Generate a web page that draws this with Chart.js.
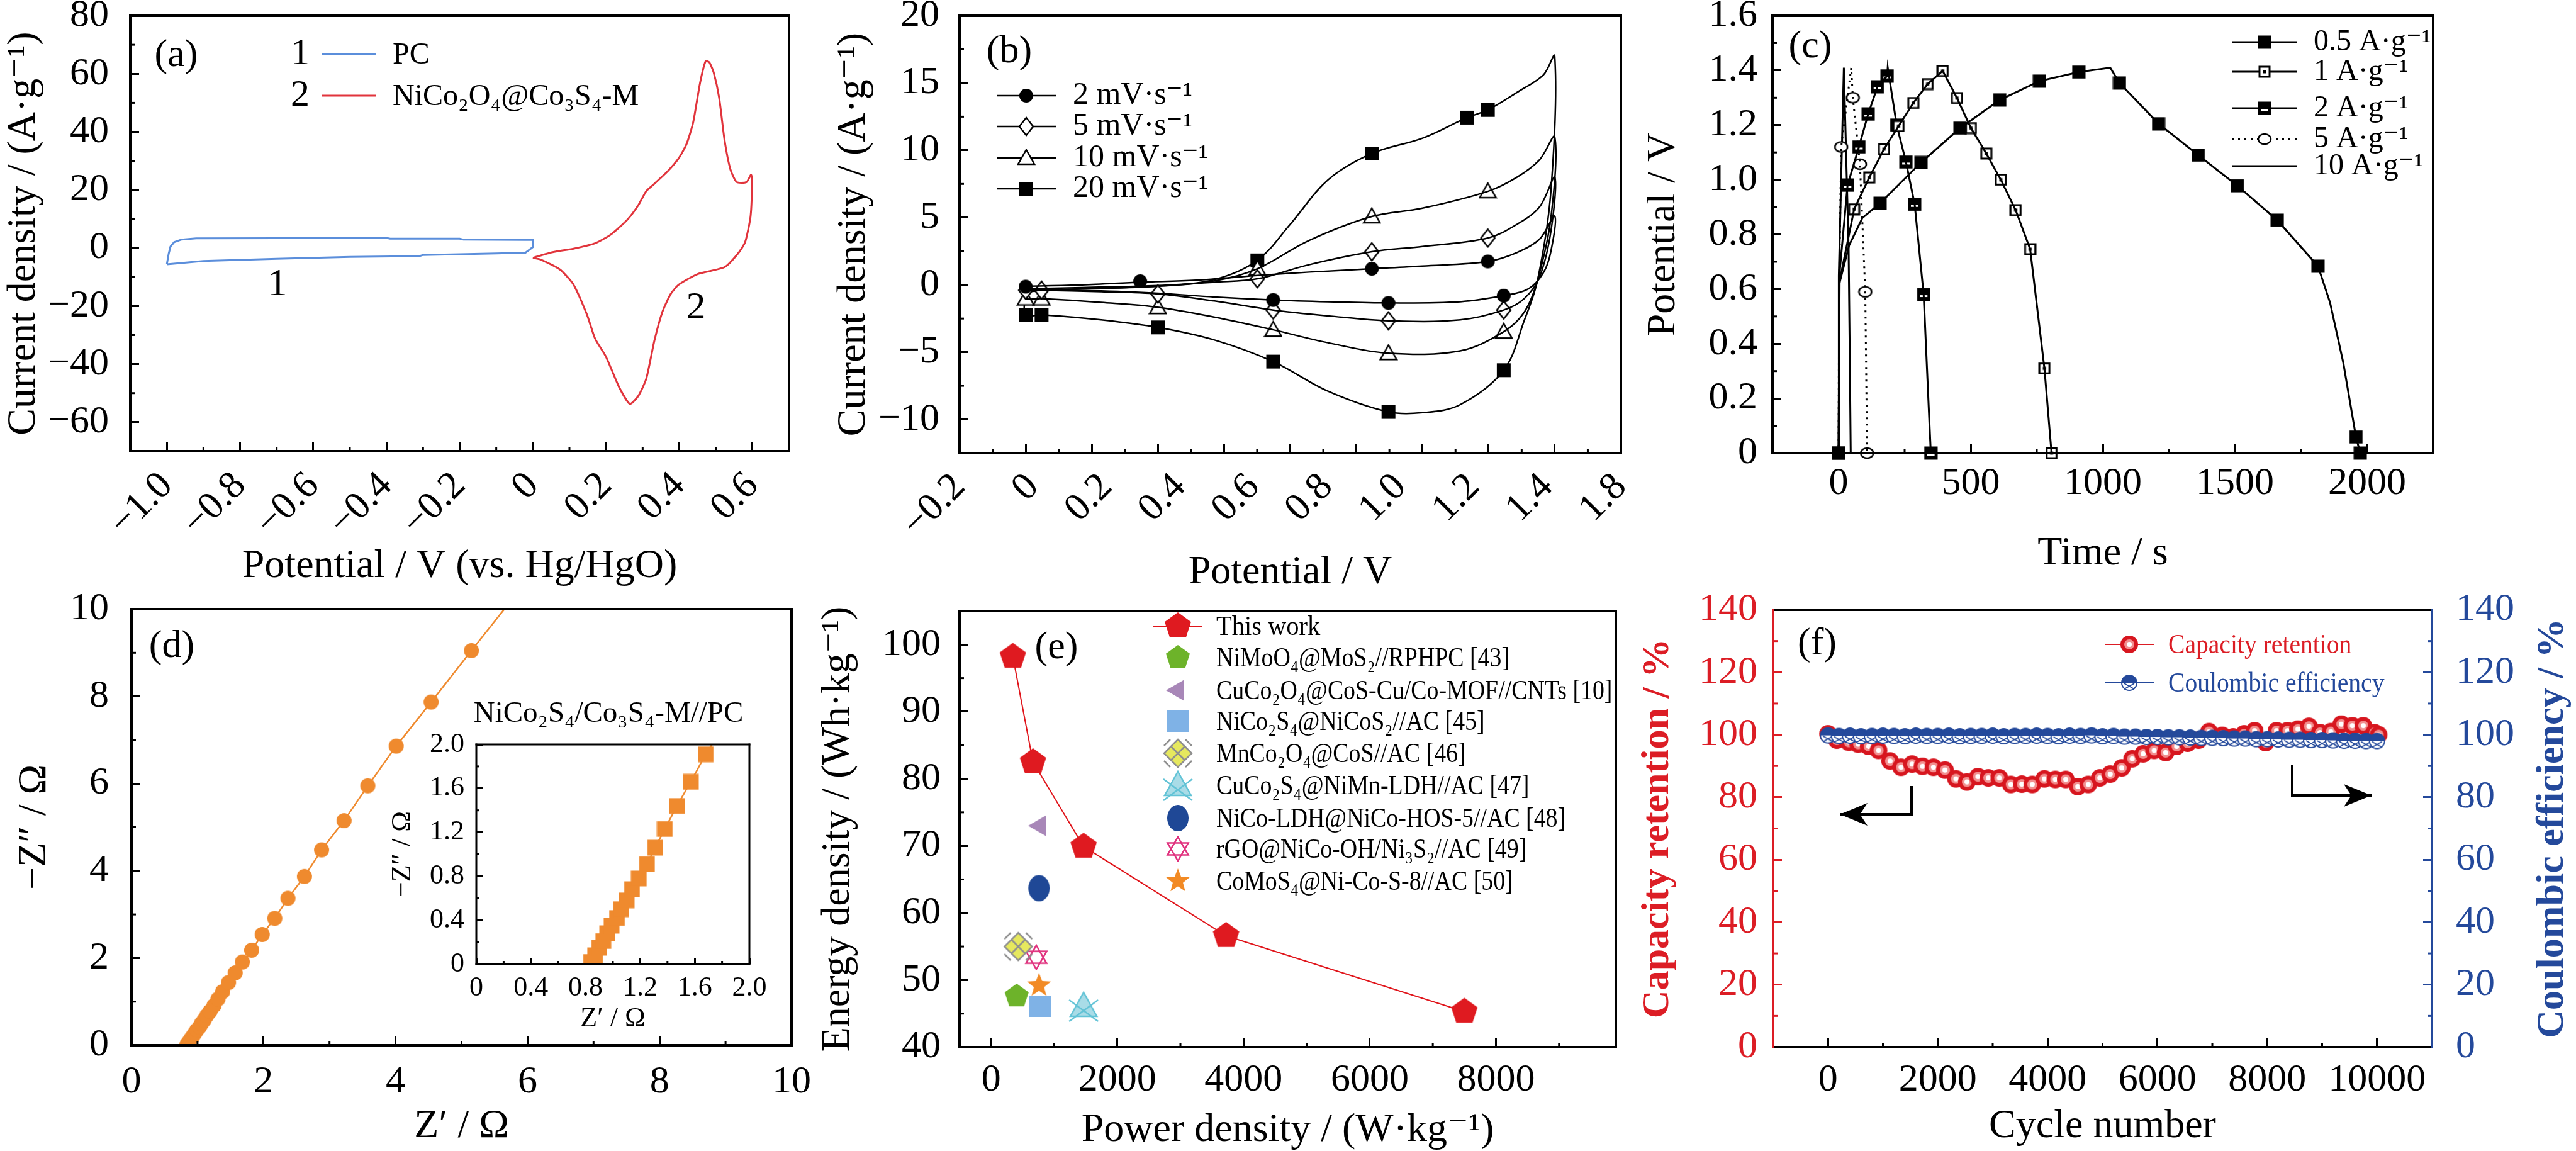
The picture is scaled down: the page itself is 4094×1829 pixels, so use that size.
<!DOCTYPE html>
<html>
<head>
<meta charset="utf-8">
<script src="https://cdn.jsdelivr.net/npm/chart.js@4.4.1/dist/chart.umd.min.js"></script>
<style>
  html, body { margin: 0; padding: 0; background: #fff; }
  body { width: 4094px; height: 1829px; position: relative; overflow: hidden; }
  canvas { position: absolute; }
</style>
</head>
<body>
<canvas id="pa"></canvas>
<canvas id="pb"></canvas>
<canvas id="pc"></canvas>
<canvas id="pd"></canvas>
<canvas id="pd2"></canvas>
<canvas id="pe"></canvas>
<canvas id="pf"></canvas>
<script>
// ---------- (a) CV of the two electrodes, [V vs Hg/HgO, A/g]
const cvPC = [[-1.0,-5.6],[-0.995,-2],[-0.99,0.5],[-0.98,2.0],[-0.96,2.9],[-0.92,3.3],[-0.7,3.4],[-0.4,3.5],[-0.39,3.2],[-0.2,3.2],[-0.19,2.9],[-0.02,2.8],[0,2.8],[0,0.3],[-0.02,-1.6],[-0.1,-1.9],[-0.3,-2.4],[-0.31,-2.8],[-0.5,-3.1],[-0.7,-3.7],[-0.9,-4.5],[-1.0,-5.6]];
const cvNiCo = [[0,-3.4],[0.052,-1.5],[0.111,-0.25],[0.17,1.6],[0.214,4.7],[0.258,9.7],[0.288,14.7],[0.31,19.6],[0.332,22.1],[0.369,26.5],[0.398,30.8],[0.42,35.8],[0.438,43.2],[0.457,56.9],[0.472,64.3],[0.482,64],[0.494,60.5],[0.509,51.8],[0.524,37],[0.54,27],[0.557,22.7],[0.584,22.7],[0.596,25.2],[0.599,24],[0.595,11],[0.58,2],[0.56,-2],[0.524,-6.6],[0.45,-9],[0.398,-12.7],[0.376,-16],[0.354,-22],[0.332,-32],[0.31,-45],[0.288,-51],[0.265,-53.7],[0.236,-48],[0.2,-37.5],[0.17,-31.2],[0.148,-23],[0.111,-12.6],[0.074,-7.4],[0.022,-4],[0,-3.4]];

// ---------- (b) CV of the device at four scan rates, [V, A/g]
const scanRates = ['2 mV·s⁻¹', '5 mV·s⁻¹', '10 mV·s⁻¹', '20 mV·s⁻¹'];
const cv2Curve = [[0,-0.1],[0.15,0.0],[0.303,0.2],[0.45,0.35],[0.613,0.7],[0.75,0.95],[0.916,1.2],[1.05,1.4],[1.223,1.74],[1.3,2.4],[1.36,3.4],[1.4,5.1],[1.39,2.5],[1.37,0.9],[1.33,-0.3],[1.265,-0.8],[1.15,-1.25],[0.96,-1.34],[0.8,-1.25],[0.655,-1.12],[0.5,-0.9],[0.35,-0.62],[0.2,-0.45],[0.042,-0.35],[0,-0.3],[0,-0.1]];
const cv2Marks = [[0,-0.13],[0.303,0.27],[0.916,1.2],[1.223,1.74],[1.265,-0.8],[0.96,-1.34],[0.655,-1.12]];
const cv5Curve = [[0,-0.3],[0.15,-0.2],[0.35,-0.05],[0.5,0.2],[0.613,0.45],[0.75,1.5],[0.916,2.46],[1.05,2.85],[1.223,3.48],[1.3,4.5],[1.36,5.8],[1.4,8.0],[1.39,4.0],[1.36,0.6],[1.32,-1.0],[1.265,-1.87],[1.15,-2.6],[0.96,-2.67],[0.8,-2.3],[0.655,-1.87],[0.5,-1.2],[0.35,-0.67],[0.2,-0.5],[0.042,-0.4],[0,-0.4],[0,-0.3]];
const cv5Marks = [[0,-0.4],[0.042,-0.4],[0.35,-0.67],[0.655,-1.87],[0.96,-2.67],[1.265,-1.87],[0.613,0.45],[0.916,2.46],[1.223,3.48]];
const cv10Curve = [[0,-0.5],[0.15,-0.3],[0.35,-0.1],[0.5,0.3],[0.613,1.2],[0.75,3.3],[0.916,5.08],[1.05,5.7],[1.223,6.95],[1.3,8.0],[1.36,9.3],[1.4,11.0],[1.39,5.0],[1.355,0.4],[1.32,-2.0],[1.265,-3.48],[1.15,-4.9],[0.96,-5.08],[0.8,-4.3],[0.655,-3.34],[0.5,-2.4],[0.35,-1.66],[0.2,-1.3],[0.042,-1.02],[0,-1.02],[0,-0.5]];
const cv10Marks = [[0,-1.02],[0.042,-1.02],[0.35,-1.66],[0.655,-3.34],[0.96,-5.08],[1.265,-3.48],[0.613,1.2],[0.916,5.08],[1.223,6.95]];
const cv20Curve = [[0,-0.4],[0.15,-0.3],[0.35,-0.1],[0.5,0.4],[0.613,1.82],[0.7,4.5],[0.8,7.8],[0.916,9.76],[1.05,10.9],[1.168,12.43],[1.223,13.0],[1.3,14.3],[1.37,15.6],[1.4,17.0],[1.39,7.0],[1.355,0.4],[1.32,-2.6],[1.265,-6.34],[1.15,-8.9],[1.05,-9.5],[0.96,-9.44],[0.8,-7.9],[0.655,-5.7],[0.5,-4.1],[0.35,-3.16],[0.2,-2.6],[0.042,-2.22],[0,-2.22],[0,-0.4]];
const cv20Marks = [[0,-2.22],[0.042,-2.22],[0.35,-3.16],[0.655,-5.7],[0.96,-9.44],[1.265,-6.34],[0.613,1.82],[0.916,9.76],[1.168,12.43],[1.223,13.0]];
const potentialTickLabels = ['−0.2', '0', '0.2', '0.4', '0.6', '0.8', '1.0', '1.2', '1.4', '1.8'];

// ---------- (c) charge/discharge curves, [s, V]
const currentLabels = ['0.5 A·g⁻¹', '1 A·g⁻¹', '2 A·g⁻¹', '5 A·g⁻¹', '10 A·g⁻¹'];
const gcd05Marks = [[0,0],[157,0.914],[312,1.063],[460,1.189],[610,1.292],[760,1.361],[909,1.394],[1063,1.354],[1211,1.205],[1361,1.09],[1509,0.978],[1660,0.852],[1814,0.684],[1958,0.059],[1974,0]];
const gcd05Extra = [[3,0.62],[40,0.76],[90,0.86],[1028,1.41],[1860,0.55],[1910,0.33]];
const gcd1Marks = [[59,0.892],[116,1.008],[172,1.112],[227,1.196],[283,1.281],[337,1.35],[394,1.398],[448,1.299],[501,1.189],[559,1.096],[614,1.0],[670,0.889],[725,0.746],[779,0.31],[806,0]];
const gcd1Extra = [[0,0],[4,0.63]];
const gcd2Marks = [[0,0],[34,0.98],[77,1.12],[112,1.24],[147,1.34],[184,1.38],[220,1.2],[255,1.065],[288,0.91],[322,0.58],[349,0]];
const gcd2Extra = [[2,0.64],[186,1.41]];
const gcd5Marks = [[0,0],[10,1.12],[54,1.3],[81,1.057],[101,0.59],[108,0]];
const gcd5Extra = [[2,0.6],[48,1.41]];
const gcd10Curve = [[0,0],[1,0.65],[20,1.41],[38,0.75],[43,0.3],[46,0]];

// ---------- (d) Nyquist plot, [Z' ohm, -Z'' ohm]
const nyquist = [[0.84,0.02],[0.87,0.08],[0.9,0.15],[0.93,0.21],[0.96,0.28],[0.99,0.35],[1.03,0.42],[1.06,0.5],[1.1,0.58],[1.14,0.68],[1.19,0.78],[1.25,0.91],[1.31,1.06],[1.38,1.23],[1.47,1.44],[1.57,1.66],[1.68,1.91],[1.82,2.18],[1.98,2.54],[2.17,2.91],[2.37,3.37],[2.62,3.87],[2.88,4.48],[3.22,5.15],[3.58,5.95],[4.01,6.86],[4.54,7.87],[5.15,9.05],[5.78,10.25]];

// ---------- (e) Ragone plot
const thisWorkPower = [345, 664, 1466, 3724, 7500];
const thisWorkEnergy = [98.2, 82.5, 69.9, 56.6, 45.3];
const refNames = ['NiMoO₄@MoS₂//RPHPC [43]', 'CuCo₂O₄@CoS-Cu/Co-MOF//CNTs [10]', 'NiCo₂S₄@NiCoS₂//AC [45]', 'MnCo₂O₄@CoS//AC [46]', 'CuCo₂S₄@NiMn-LDH//AC [47]', 'NiCo-LDH@NiCo-HOS-5//AC [48]', 'rGO@NiCo-OH/Ni₃S₂//AC [49]', 'CoMoS₄@Ni-Co-S-8//AC [50]'];
const refPower = [405, 776, 776, 431, 1466, 759, 716, 759];
const refEnergy = [47.6, 73.0, 46.1, 55.0, 46.1, 63.7, 53.4, 49.2];

// ---------- (f) cycling
const retentionCycles = [0,160,380,550,740,920,1130,1330,1530,1720,1920,2130,2330,2530,2730,2920,3120,3330,3530,3720,3940,4140,4330,4550,4740,4950,5140,5350,5540,5740,5940,6150,6350,6550,6750,6940,7180,7380,7580,7770,7970,8170,8370,8560,8760,8960,9160,9350,9550,9750,9950,10030];
const retention = [100.3,98.3,97.6,97.0,96.3,95.0,91.6,89.6,90.6,89.9,89.6,88.7,85.9,84.9,86.6,86.2,86.2,84.1,84.2,84.1,85.9,85.7,85.7,83.4,84.1,86.2,87.4,89.4,92.3,93.9,95.0,94.3,96.3,97.3,98.3,101.0,99.8,99.3,100.3,101.3,97.5,101.3,101.3,101.8,102.7,100.7,101.0,103.4,102.9,102.9,100.7,100.0];
const ceCycles = [0,200,400,600,800,1000,1200,1400,1600,1800,2000,2200,2400,2600,2800,3000,3200,3400,3600,3800,4000,4200,4400,4600,4800,5000,5200,5400,5600,5800,6000,6200,6400,6600,6800,7000,7200,7400,7600,7800,8000,8200,8400,8600,8800,9000,9200,9400,9600,9800,10000];
const coulombic = [99.8,99.6,99.7,99.5,99.6,99.7,99.6,99.5,99.7,99.6,99.6,99.7,99.5,99.6,99.6,99.7,99.5,99.6,99.6,99.7,99.6,99.5,99.7,99.6,99.8,99.5,99.6,99.4,99.4,99.3,99.3,99.2,99.2,99.1,99.0,99.0,98.9,98.8,98.8,98.6,98.6,98.5,98.4,98.4,98.3,98.3,98.2,98.1,98.1,98.0,98.0];

// ---------- look
const FONT = "'Liberation Serif', 'DejaVu Serif', serif";
const TICK = 62, TITLE = 64;
const RED = '#DC1D25', BLUE = '#24499B', ORANGE = '#EF8A2E';
Chart.defaults.font.family = FONT;

// canvas rectangle (c) and plot box (b) of each panel, page pixels
const PA = {c: {x: 0, y: 0, w: 1320, h: 960}, b: {l: 207, t: 25, r: 1254, b: 717}};
const PB = {c: {x: 1290, y: 0, w: 1420, h: 960}, b: {l: 1525, t: 25, r: 2576, b: 720}};
const PC = {c: {x: 2580, y: 0, w: 1514, h: 960}, b: {l: 2817, t: 25, r: 3867, b: 720}};
const PD = {c: {x: 0, y: 915, w: 1320, h: 914}, b: {l: 209, t: 968, r: 1258, b: 1661}};
const PD2 = {c: {x: 560, y: 1100, w: 700, h: 560}, b: {l: 757, t: 1183, r: 1191, b: 1532}};
const PE = {c: {x: 1290, y: 915, w: 1300, h: 914}, b: {l: 1525, t: 971, r: 2574, b: 1664}};
const PF = {c: {x: 2580, y: 915, w: 1514, h: 914}, b: {l: 2818, t: 969, r: 3865, b: 1664}};

const pts = a => a.map(([x, y]) => ({x, y}));
const zip = (xs, ys) => xs.map((x, i) => ({x, y: ys[i]}));
const byX = a => a.slice().sort((p, q) => p[0] - q[0]);
const minus = s => s.replace('-', '−');
const fmtInt = v => minus(String(Math.round(v)));
const fmt1 = v => Math.abs(v) < 1e-9 ? '0' : minus(v.toFixed(1));

// ---------- marker images
function mk(w, h, draw) {
  const c = document.createElement('canvas');
  c.width = w; c.height = h || w;
  const g = c.getContext('2d');
  g.translate(c.width / 2, c.height / 2);
  draw(g, c.width / 2, c.height / 2);
  return c;
}
function shape(g, p, fill, stroke, lw) {
  g.beginPath();
  p.forEach(([x, y], i) => i ? g.lineTo(x, y) : g.moveTo(x, y));
  g.closePath();
  if (fill) { g.fillStyle = fill; g.fill(); }
  if (stroke) { g.strokeStyle = stroke; g.lineWidth = lw; g.stroke(); }
}
const ngon = (n, r, rot) => Array.from({length: n}, (_, i) => [r * Math.cos(rot + i * 2 * Math.PI / n), r * Math.sin(rot + i * 2 * Math.PI / n)]);
const starPts = (n, r1, r2) => Array.from({length: 2 * n}, (_, i) => {
  const r = i % 2 ? r2 : r1, a = -Math.PI / 2 + i * Math.PI / n;
  return [r * Math.cos(a), r * Math.sin(a)];
});
const disc = (g, r, fill, stroke, lw, rx) => {
  g.beginPath(); g.ellipse(0, 0, rx || r, r, 0, 0, 2 * Math.PI);
  if (fill) { g.fillStyle = fill; g.fill(); }
  if (stroke) { g.strokeStyle = stroke; g.lineWidth = lw; g.stroke(); }
};
const square = s => [[-s, -s], [s, -s], [s, s], [-s, s]];

const mDotB = mk(24, 0, g => disc(g, 11, '#000'));
const mDiaO = mk(26, 32, g => shape(g, [[0, -14], [11, 0], [0, 14], [-11, 0]], '#fff', '#000', 2.5));
const mTriO = mk(30, 30, g => shape(g, [[0, -13], [13, 10], [-13, 10]], '#fff', '#000', 2.5));
const mSqB = mk(24, 0, g => shape(g, square(11), '#000'));
const mSq05 = mk(22, 0, g => shape(g, square(10.5), '#000'));
const mSqDot = mk(20, 0, g => { shape(g, square(8), '#fff', '#000', 3); shape(g, square(2.5), '#000'); });
const mSqBar = mk(22, 0, g => { shape(g, square(10.5), '#000'); shape(g, [[-6, 1], [6, 1], [6, 4], [-6, 4]], '#fff'); });
const mCircO = mk(24, 20, g => disc(g, 8, '#fff', '#000', 2.5, 10));
const mDotOr = mk(26, 0, g => disc(g, 12, ORANGE));
const mSqOr = mk(26, 0, g => shape(g, square(12.5), ORANGE));
const mPentRed = mk(46, 0, g => shape(g, ngon(5, 22, -Math.PI / 2), '#DF1A20'));
const refMarks = [
  mk(44, 0, g => shape(g, ngon(5, 20, -Math.PI / 2), '#6DB32A')),
  mk(40, 0, g => shape(g, ngon(3, 19, Math.PI), '#A887B8')),
  mk(38, 0, g => shape(g, square(17), '#7FB2E6')),
  mk(50, 0, g => {
    shape(g, [[0, -22], [22, 0], [0, 22], [-22, 0]], '#E6E85E', '#8F8F8F', 2.5);
    g.beginPath(); g.moveTo(-11, -11); g.lineTo(11, 11); g.moveTo(11, -11); g.lineTo(-11, 11);
    g.moveTo(-22, -12); g.lineTo(-12, -22); g.moveTo(12, -22); g.lineTo(22, -12);
    g.moveTo(-22, 12); g.lineTo(-12, 22); g.moveTo(12, 22); g.lineTo(22, 12); g.stroke();
  }),
  mk(52, 0, g => {
    shape(g, [[0, -22], [21, 16], [-21, 16]], '#A9DCE7', '#62C3D6', 2.5);
    g.beginPath(); g.moveTo(-23, -10); g.lineTo(23, 24); g.moveTo(23, -10); g.lineTo(-23, 24); g.stroke();
  }),
  mk(40, 46, g => disc(g, 21, '#1F4896', null, 0, 17)),
  mk(42, 0, g => {
    shape(g, ngon(3, 19, -Math.PI / 2), null, '#E0307D', 2.5);
    shape(g, ngon(3, 19, Math.PI / 2), null, '#E0307D', 2.5);
  }),
  mk(44, 0, g => shape(g, starPts(5, 20, 8.5), '#F28A24'))
];
const mSphere = mk(30, 0, g => { disc(g, 14, '#D7161F'); disc(g, 8, '#F28F8F'); disc(g, 4, '#fff'); });
const mCE = mk(28, 0, g => {
  disc(g, 12, '#fff');
  g.beginPath(); g.arc(0, 0, 12, Math.PI, 2 * Math.PI); g.closePath(); g.fillStyle = BLUE; g.fill();
  g.strokeStyle = BLUE; g.lineWidth = 2;
  g.beginPath(); g.moveTo(-8, 1); g.lineTo(8, 10); g.moveTo(8, 1); g.lineTo(-8, 10); g.stroke();
  disc(g, 12, null, BLUE, 2);
});

// ---------- axes
function fitTo(P, pos, zero) {
  return s => {
    if (zero) s.height = 0;
    else if (pos === 'left') s.width = P.b.l - P.c.x;
    else if (pos === 'right') s.width = P.c.x + P.c.w - P.b.r;
    else s.height = P.c.y + P.c.h - P.b.b;
    s.paddingLeft = s.paddingRight = s.paddingTop = s.paddingBottom = 0;
  };
}
function stepTicks(step) {
  return s => {
    const out = [];
    for (let k = Math.ceil(s.min / step - 1e-6); k * step <= s.max + 1e-6; k++) out.push({value: k * step});
    s.ticks = out;
  };
}
function titleOpt(P, pos, text, at, o = {}) {
  if (!text) return {display: false};
  const size = o.tsize || TITLE, half = size * 0.6;
  let padding;
  if (pos === 'left') padding = {top: at - P.c.x - half, bottom: 0};
  else if (pos === 'right') padding = {top: P.c.x + P.c.w - at - half, bottom: 0};
  else padding = {top: 0, bottom: P.c.y + P.c.h - at - half};
  return {display: true, text, color: o.tcolor || '#000', font: {family: FONT, size, weight: o.bold ? 'bold' : 'normal'}, padding};
}
function axis(P, pos, o) {
  const col = o.color || '#000';
  return {
    type: 'linear', position: pos, min: o.min, max: o.max, weight: o.weight || 0,
    afterFit: fitTo(P, pos, o.zero),
    afterBuildTicks: stepTicks(o.step),
    border: {display: false},
    grid: {drawOnChartArea: false, tickLength: -(o.tl || 14), tickWidth: 3, tickColor: col},
    ticks: {display: o.labels !== false, autoSkip: false, padding: o.pad, color: col,
      font: {family: FONT, size: o.size || TICK}, minRotation: o.rot || 0, maxRotation: o.rot || 0, callback: o.fmt},
    title: titleOpt(P, pos, o.title, o.at, o)
  };
}

// ---------- page decorations
function text(ctx, s, x, y, o = {}) {
  ctx.font = `${o.bold ? 'bold ' : ''}${o.size || 48}px ${FONT}`;
  ctx.fillStyle = o.color || '#000';
  ctx.textAlign = o.align || 'left';
  ctx.textBaseline = 'middle';
  ctx.fillText(s, x, y, ctx.measureText(s).width * (o.sq || 1));
}
function seg(ctx, x1, x2, y, ds) {
  ctx.save();
  ctx.strokeStyle = ds.borderColor; ctx.lineWidth = ds.borderWidth;
  ctx.setLineDash(ds.borderDash || []);
  ctx.beginPath(); ctx.moveTo(x1, y); ctx.lineTo(x2, y); ctx.stroke();
  ctx.restore();
}
function mark(ctx, img, x, y) { ctx.drawImage(img, x - img.width / 2, y - img.height / 2); }
function arrow(ctx, p) {
  ctx.save();
  ctx.strokeStyle = ctx.fillStyle = '#000'; ctx.lineWidth = 4;
  ctx.beginPath(); p.forEach(([x, y], i) => i ? ctx.lineTo(x, y) : ctx.moveTo(x, y)); ctx.stroke();
  const [x1, y1] = p[p.length - 2], [x2, y2] = p[p.length - 1];
  ctx.translate(x2, y2); ctx.rotate(Math.atan2(y2 - y1, x2 - x1));
  ctx.beginPath(); ctx.moveTo(0, 0); ctx.lineTo(-44, -18); ctx.lineTo(-32, 0); ctx.lineTo(-44, 18); ctx.closePath(); ctx.fill();
  ctx.restore();
}

function panel(id, P, cfg) {
  const cv = document.getElementById(id);
  cv.width = P.c.w; cv.height = P.c.h;
  cv.style.left = P.c.x + 'px'; cv.style.top = P.c.y + 'px';
  const frame = Object.assign({top: '#000', bottom: '#000', left: '#000', right: '#000'}, cfg.frame);
  return new Chart(cv, {
    type: 'scatter',
    data: {datasets: cfg.datasets},
    options: {
      responsive: false, animation: false, events: [],
      layout: {padding: {top: P.b.t - P.c.y, left: 0, bottom: 0, right: cfg.rightAxis ? 0 : P.c.x + P.c.w - P.b.r}},
      plugins: {legend: {display: false}, tooltip: {enabled: false}},
      scales: cfg.scales
    },
    plugins: [{
      id: 'frameMinor',
      afterDatasetsDraw(chart) {
        const {ctx, chartArea: a} = chart;
        ctx.save();
        ctx.lineWidth = 3;
        (cfg.minor || []).forEach(m => {
          const s = chart.scales[m.id];
          ctx.strokeStyle = m.color || '#000';
          const len = m.len || 7;
          for (let k = Math.ceil(s.min / m.step - 1e-6); k * m.step <= s.max + 1e-6; k++) {
            const v = k * m.step;
            if (Math.abs(v / m.major - Math.round(v / m.major)) < 1e-6) continue;
            const p = s.getPixelForValue(v);
            ctx.beginPath();
            if (s.position === 'bottom') { ctx.moveTo(p, a.bottom); ctx.lineTo(p, a.bottom - len); }
            else if (s.position === 'left') { ctx.moveTo(a.left, p); ctx.lineTo(a.left + len, p); }
            else { ctx.moveTo(a.right, p); ctx.lineTo(a.right - len, p); }
            ctx.stroke();
          }
        });
        ctx.lineWidth = cfg.frameWidth || 4;
        ctx.lineCap = 'square';
        [['top', a.left, a.top, a.right, a.top], ['bottom', a.left, a.bottom, a.right, a.bottom],
         ['left', a.left, a.top, a.left, a.bottom], ['right', a.right, a.top, a.right, a.bottom]].forEach(([k, x1, y1, x2, y2]) => {
          ctx.strokeStyle = frame[k];
          ctx.beginPath(); ctx.moveTo(x1, y1); ctx.lineTo(x2, y2); ctx.stroke();
        });
        ctx.restore();
      },
      afterDraw(chart) {
        if (!cfg.deco) return;
        const ctx = chart.ctx;
        ctx.save(); ctx.translate(-P.c.x, -P.c.y);
        cfg.deco(ctx, chart.data.datasets);
        ctx.restore();
      }
    }]
  });
}

// ---------- (a)
panel('pa', PA, {
  datasets: [
    {data: pts(cvPC), showLine: true, borderColor: '#5B8EDB', borderWidth: 3, pointRadius: 0, tension: 0},
    {data: pts(cvNiCo), showLine: true, borderColor: '#E1343C', borderWidth: 3, pointRadius: 0, tension: 0.2}
  ],
  scales: {
    x: axis(PA, 'bottom', {min: -1.1, max: 0.7, step: 0.2, fmt: fmt1, rot: 45, pad: 33, title: 'Potential / V (vs. Hg/HgO)', at: 900}),
    y: axis(PA, 'left', {min: -70, max: 80, step: 20, fmt: fmtInt, pad: 48, title: 'Current density / (A·g⁻¹)', at: 38})
  },
  minor: [{id: 'x', step: 0.1, major: 0.2}, {id: 'y', step: 10, major: 20}],
  deco(ctx, ds) {
    text(ctx, '(a)', 280, 89, {size: 62, align: 'center'});
    text(ctx, '1', 477, 86, {size: 60, align: 'center'});
    text(ctx, '2', 477, 152, {size: 60, align: 'center'});
    seg(ctx, 512, 598, 86, ds[0]);
    seg(ctx, 512, 598, 152, ds[1]);
    text(ctx, 'PC', 624, 88, {size: 48});
    text(ctx, 'NiCo₂O₄@Co₃S₄-M', 624, 154, {size: 48});
    text(ctx, '1', 441, 453, {size: 62, align: 'center'});
    text(ctx, '2', 1106, 490, {size: 62, align: 'center'});
  }
});

// ---------- (b)
const cvSets = [[cv2Curve, cv2Marks, mDotB], [cv5Curve, cv5Marks, mDiaO], [cv10Curve, cv10Marks, mTriO], [cv20Curve, cv20Marks, mSqB]];
panel('pb', PB, {
  datasets: cvSets.flatMap(([curve, marks, img]) => [
    {data: pts(curve), showLine: true, borderColor: '#000', borderWidth: 2.5, pointRadius: 0, tension: 0.35},
    {data: pts(marks), showLine: false, pointStyle: img, pointRadius: 12, borderColor: '#000', backgroundColor: '#000'}
  ]),
  scales: {
    x: axis(PB, 'bottom', {min: -0.175, max: 1.575, step: 0.175, labels: false, zero: true}),
    xl: {
      type: 'category', position: 'bottom', labels: potentialTickLabels, offset: false, weight: 1,
      afterFit: fitTo(PB, 'bottom'),
      border: {display: false}, grid: {display: false, drawTicks: false},
      ticks: {autoSkip: false, minRotation: 45, maxRotation: 45, padding: 18, color: '#000', font: {family: FONT, size: TICK}},
      title: titleOpt(PB, 'bottom', 'Potential / V', 910)
    },
    y: axis(PB, 'left', {min: -12.5, max: 20, step: 5, fmt: fmtInt, pad: 46, title: 'Current density / (A·g⁻¹)', at: 1357})
  },
  minor: [{id: 'x', step: 0.0875, major: 0.175}, {id: 'y', step: 2.5, major: 5}],
  deco(ctx, ds) {
    text(ctx, '(b)', 1604, 83, {size: 62, align: 'center'});
    [152, 201, 251, 300].forEach((y, i) => {
      seg(ctx, 1584, 1679, y, ds[2 * i]);
      mark(ctx, cvSets[i][2], 1631, y);
      text(ctx, scanRates[i], 1705, y, {size: 50});
    });
  }
});

// ---------- (c)
const gcdSets = [[gcd05Marks, gcd05Extra, mSq05, null], [gcd1Marks, gcd1Extra, mSqDot, null], [gcd2Marks, gcd2Extra, mSqBar, null], [gcd5Marks, gcd5Extra, mCircO, [3, 7]]];
const gcdData = gcdSets.flatMap(([marks, extra, img, dash]) => [
  {data: pts(byX(marks.concat(extra))), showLine: true, borderColor: '#000', borderWidth: 3, borderDash: dash || [], pointRadius: 0, tension: 0},
  {data: pts(marks), showLine: false, pointStyle: img, pointRadius: 11, clip: false, borderColor: '#000', backgroundColor: '#000'}
]);
gcdData.push({data: pts(gcd10Curve), showLine: true, borderColor: '#000', borderWidth: 3, pointRadius: 0, tension: 0});
panel('pc', PC, {
  datasets: gcdData,
  scales: {
    x: axis(PC, 'bottom', {min: -250, max: 2250, step: 500, fmt: fmtInt, pad: 26, title: 'Time / s', at: 880}),
    y: axis(PC, 'left', {min: 0, max: 1.6, step: 0.2, fmt: fmt1, pad: 38, title: 'Potential / V', at: 2644})
  },
  minor: [{id: 'x', step: 250, major: 500}, {id: 'y', step: 0.1, major: 0.2}],
  deco(ctx, ds) {
    text(ctx, '(c)', 2877, 75, {size: 62, align: 'center'});
    [67, 114, 172, 221, 264].forEach((y, i) => {
      seg(ctx, 3547, 3651, y, ds[2 * i]);
      if (i < 4) mark(ctx, gcdSets[i][2], 3599, y);
      text(ctx, currentLabels[i], 3677, y, {size: 48});
    });
  }
});

// ---------- (d) and inset
panel('pd', PD, {
  datasets: [{data: pts(nyquist), showLine: true, borderColor: ORANGE, borderWidth: 2.5, pointStyle: mDotOr, pointRadius: 12, tension: 0}],
  scales: {
    x: axis(PD, 'bottom', {min: 0, max: 10, step: 2, fmt: fmtInt, pad: 36, title: 'Z′ / Ω', at: 1790}),
    y: axis(PD, 'left', {min: 0, max: 10, step: 2, fmt: fmtInt, pad: 50, title: '−Z″ / Ω', at: 55})
  },
  minor: [{id: 'x', step: 1, major: 2}, {id: 'y', step: 1, major: 2}],
  deco(ctx) {
    text(ctx, '(d)', 273, 1028, {size: 62, align: 'center'});
    text(ctx, 'NiCo₂S₄/Co₃S₄-M//PC', 967, 1135, {size: 47, align: 'center'});
  }
});
panel('pd2', PD2, {
  datasets: [{data: pts(nyquist), showLine: true, borderColor: ORANGE, borderWidth: 2.5, pointStyle: mSqOr, pointRadius: 12, tension: 0}],
  scales: {
    x: axis(PD2, 'bottom', {min: 0, max: 2, step: 0.4, fmt: fmt1, size: 44, tl: 10, pad: 22, title: 'Z′ / Ω', at: 1619, tsize: 44}),
    y: axis(PD2, 'left', {min: 0, max: 2, step: 0.4, fmt: fmt1, size: 44, tl: 10, pad: 29, title: '−Z″ / Ω', at: 640, tsize: 44})
  },
  minor: [{id: 'x', step: 0.2, major: 0.4, len: 5}, {id: 'y', step: 0.2, major: 0.4, len: 5}],
  frameWidth: 3
});

// ---------- (e)
const ragoneData = [{data: zip(thisWorkPower, thisWorkEnergy), showLine: true, borderColor: '#E0151B', borderWidth: 2, pointStyle: mPentRed, pointRadius: 20, tension: 0}]
  .concat(refNames.map((n, i) => ({data: [{x: refPower[i], y: refEnergy[i]}], showLine: false, pointStyle: refMarks[i], pointRadius: 18})));
panel('pe', PE, {
  datasets: ragoneData,
  scales: {
    x: axis(PE, 'bottom', {min: -500, max: 9900, step: 2000, fmt: fmtInt, pad: 30, title: 'Power density / (W·kg⁻¹)', at: 1796}),
    y: axis(PE, 'left', {min: 40, max: 105, step: 10, fmt: fmtInt, pad: 44, title: 'Energy density / (Wh·kg⁻¹)', at: 1332})
  },
  minor: [{id: 'x', step: 1000, major: 2000}, {id: 'y', step: 5, major: 10}],
  deco(ctx, ds) {
    text(ctx, '(e)', 1679, 1030, {size: 62, align: 'center'});
    const rows = [995, 1045, 1097, 1146, 1197, 1248, 1300, 1349, 1400];
    seg(ctx, 1833, 1911, rows[0], ds[0]);
    mark(ctx, mPentRed, 1872, rows[0]);
    text(ctx, 'This work', 1933, rows[0] + 2, {size: 44, sq: 0.92});
    refNames.forEach((n, i) => {
      mark(ctx, refMarks[i], 1872, rows[i + 1]);
      text(ctx, n, 1933, rows[i + 1] + 2, {size: 44, sq: 0.86});
    });
  }
});

// ---------- (f)
panel('pf', PF, {
  rightAxis: true,
  frame: {left: RED, right: BLUE},
  datasets: [
    {data: zip(ceCycles, coulombic), yAxisID: 'y2', showLine: true, borderColor: BLUE, borderWidth: 2, pointStyle: mCE, pointRadius: 12, tension: 0},
    {data: zip(retentionCycles, retention), yAxisID: 'y', showLine: true, borderColor: RED, borderWidth: 2, pointStyle: mSphere, pointRadius: 13, tension: 0}
  ],
  scales: {
    x: axis(PF, 'bottom', {min: -1000, max: 11000, step: 2000, fmt: fmtInt, pad: 30, title: 'Cycle number', at: 1790}),
    y: axis(PF, 'left', {min: 0, max: 140, step: 20, fmt: fmtInt, pad: 39, color: RED, title: 'Capacity retention / %', at: 2635, tcolor: RED, bold: true, tsize: 62}),
    y2: axis(PF, 'right', {min: 0, max: 140, step: 20, fmt: fmtInt, pad: 52, color: BLUE})
  },
  minor: [{id: 'x', step: 1000, major: 2000}, {id: 'y', step: 10, major: 20, color: RED}, {id: 'y2', step: 10, major: 20, color: BLUE}],
  deco(ctx, ds) {
    text(ctx, '(f)', 2888, 1024, {size: 62, align: 'center'});
    seg(ctx, 3346, 3424, 1024, ds[1]); mark(ctx, mSphere, 3384, 1024);
    text(ctx, 'Capacity retention', 3446, 1026, {size: 44, color: RED, sq: 0.9});
    seg(ctx, 3346, 3424, 1085, ds[0]); mark(ctx, mCE, 3384, 1085);
    text(ctx, 'Coulombic efficiency', 3446, 1087, {size: 44, color: BLUE, sq: 0.9});
    arrow(ctx, [[3038, 1249], [3038, 1294], [2924, 1294]]);
    arrow(ctx, [[3643, 1215], [3643, 1264], [3769, 1264]]);
    ctx.save();
    ctx.translate(4057, (PF.b.t + PF.b.b) / 2); ctx.rotate(-Math.PI / 2);
    text(ctx, 'Coulombic efficiency / %', 0, 0, {size: 62, bold: true, color: BLUE, align: 'center'});
    ctx.restore();
  }
});
</script>
</body>
</html>
